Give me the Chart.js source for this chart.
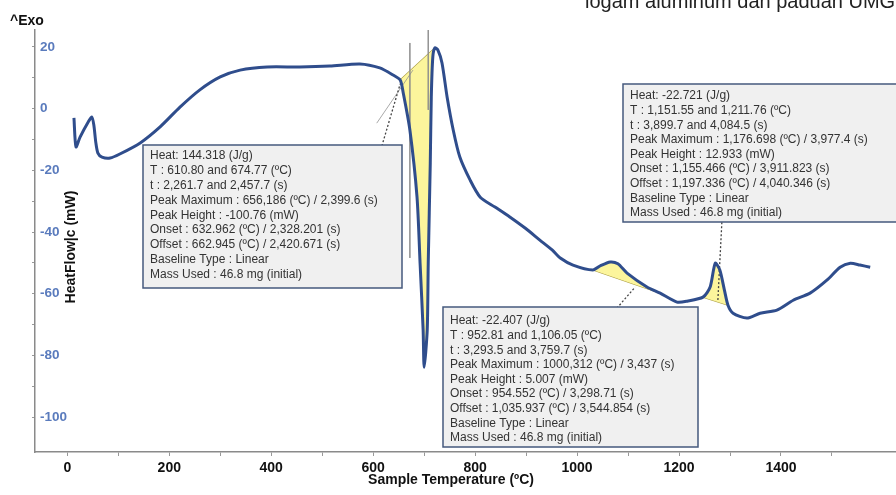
<!DOCTYPE html>
<html>
<head>
<meta charset="utf-8">
<script src="https://cdn.jsdelivr.net/npm/chart.js@4.4.0/dist/chart.umd.min.js"></script>
<style>
  html, body { margin: 0; padding: 0; background: #fff; }
  canvas { display: block; }
</style>
</head>
<body>
<canvas id="dsc" width="896" height="495"></canvas>
<script>
// DSC heating curve (heat flow vs sample temperature)
const tempC = [13, 17, 25, 41, 48, 52, 56, 60, 68, 84,
  103, 143, 182, 221, 260, 300, 339, 392, 456, 515,
  574, 613, 639, 653, 659, 672, 686, 692, 698, 700,
  706, 708, 712, 714, 717, 721, 727, 735, 745, 757,
  770, 790, 810, 839, 868, 898, 927, 951, 967, 992,
  1031, 1045, 1065, 1080, 1098, 1137, 1163, 1196, 1216, 1247,
  1261, 1271, 1280, 1289, 1296, 1306, 1333, 1359, 1392, 1424,
  1457, 1490, 1516, 1536, 1555, 1575];
const heatFlow = [-3.0, -12.4, -9.2, -4.3, -2.7, -5.3, -11.1, -14.4, -15.7, -16.0,
  -14.7, -11.1, -5.9, 0.5, 6.1, 10.3, 12.5, 13.5, 13.5, 13.8,
  14.5, 13.2, 10.9, 9.3, 5.1, -6.9, -28.7, -50.1, -71.8, -83.8,
  -71.8, -50.1, -17.6, 3.8, 16.8, 19.7, 19.0, 14.8, 3.8, -6.9,
  -15.7, -23.1, -28.7, -31.9, -35.1, -38.7, -42.6, -45.8, -48.4, -50.7,
  -52.3, -51.0, -49.7, -50.3, -53.3, -57.8, -59.8, -62.7, -62.4, -61.1,
  -57.8, -50.1, -52.3, -58.8, -63.7, -66.3, -67.9, -66.3, -65.3, -62.1,
  -59.8, -55.6, -51.4, -50.1, -50.7, -51.4];

// integrated peaks: first and last curve index of each one
const peakRanges = [[23, 35], [50, 56], [59, 64]];

// dotted leader lines from the result boxes to the peaks [T, mW]
const leaders = [
  [[617, -12.1], [653, 8.0]],
  [[1078, -64.7], [1114, -57.8]],
  [[1284, -36.8], [1276, -62.7]]
];
// thin grey onset construction lines
const guides = [
  [[607, -4.7], [678, 12.5]],
  [[672, 21.3], [672, -48.4]],
  [[708, 25.5], [708, -0.4]]
];

const xMajor = [0, 200, 400, 600, 800, 1000, 1200, 1400];
const xMinor = [100, 300, 500, 700, 900, 1100, 1300, 1500];
const yMajor = [20, 0, -20, -40, -60, -80, -100];
const yMinor = [10, -10, -30, -50, -70, -90];

const box1Lines = ['Heat: 144.318 (J/g)', 'T : 610.80 and 674.77 (ºC)', 't : 2,261.7 and 2,457.7 (s)',
  'Peak Maximum : 656,186 (ºC) / 2,399.6 (s)', 'Peak Height : -100.76 (mW)',
  'Onset : 632.962 (ºC) / 2,328.201 (s)', 'Offset : 662.945 (ºC) / 2,420.671 (s)',
  'Baseline Type : Linear', 'Mass Used : 46.8 mg (initial)'];
const box2Lines = ['Heat: -22.407 (J/g)', 'T : 952.81 and 1,106.05 (ºC)', 't : 3,293.5 and 3,759.7 (s)',
  'Peak Maximum : 1000,312 (ºC) / 3,437 (s)', 'Peak Height : 5.007 (mW)',
  'Onset : 954.552 (ºC) / 3,298.71 (s)', 'Offset : 1,035.937 (ºC) / 3,544.854 (s)',
  'Baseline Type : Linear', 'Mass Used : 46.8 mg (initial)'];
const box3Lines = ['Heat: -22.721 (J/g)', 'T : 1,151.55 and 1,211.76 (ºC)', 't : 3,899.7 and 4,084.5 (s)',
  'Peak Maximum : 1,176.698 (ºC) / 3,977.4 (s)', 'Peak Height : 12.933 (mW)',
  'Onset : 1,155.466 (ºC) / 3,911.823 (s)', 'Offset : 1,197.336 (ºC) / 4,040.346 (s)',
  'Baseline Type : Linear', 'Mass Used : 46.8 mg (initial)'];

const FONT = '"Liberation Sans", Arial, sans-serif';
const CURVE_TENSION = 0.25;

const pts = tempC.map((t, i) => ({ x: t, y: heatFlow[i] }));
const toXY = seg => seg.map(p => ({ x: p[0], y: p[1] }));

let datasets = [{
  data: pts,
  borderColor: '#2f4d8c',
  borderWidth: 3,
  pointRadius: 0,
  tension: CURVE_TENSION,
  fill: false
}];

leaders.forEach(l => datasets.push({
  data: toXY(l), borderColor: '#444', borderWidth: 1.3, borderDash: [2, 2],
  pointRadius: 0, fill: false
}));
guides.forEach(g => datasets.push({
  data: toXY(g), borderColor: 'rgba(140,140,140,0.75)', borderWidth: 1,
  pointRadius: 0, fill: false
}));

// each peak: the curve slice filled down/up to its straight baseline
peakRanges.forEach(([a, b]) => {
  const baseIdx = datasets.length + 1;
  datasets.push({
    data: pts.slice(a, b + 1),
    borderColor: 'rgba(0,0,0,0)',
    borderWidth: 0,
    pointRadius: 0,
    tension: CURVE_TENSION,
    backgroundColor: '#fcf59c',
    fill: baseIdx
  });
  datasets.push({
    data: [pts[a], pts[b]],
    borderColor: '#a99c42',
    borderWidth: 1.2,
    pointRadius: 0,
    fill: false
  });
});

const boxes = [
  { x: 143, y: 145, w: 259, h: 143, textY: 156, gap: 14.8, lines: box1Lines },
  { x: 443, y: 307, w: 255, h: 140, textY: 321, gap: 14.6, lines: box2Lines },
  { x: 623, y: 84, w: 278, h: 138, textY: 96, gap: 14.6, lines: box3Lines }
];

const overlay = {
  id: 'overlay',
  afterDraw(chart) {
    const c = chart.ctx;
    c.save();
    boxes.forEach(b => {
      c.fillStyle = '#f0f0f0';
      c.fillRect(b.x, b.y, b.w, b.h);
      c.strokeStyle = '#45597d';
      c.lineWidth = 1.5;
      c.strokeRect(b.x, b.y, b.w, b.h);
      c.fillStyle = '#333';
      c.font = '12px ' + FONT;
      c.textAlign = 'left';
      c.textBaseline = 'middle';
      b.lines.forEach((t, i) => c.fillText(t, b.x + 7, b.textY + i * b.gap));
    });

    c.fillStyle = '#111';
    c.font = 'bold 14px ' + FONT;
    c.textBaseline = 'alphabetic';
    c.textAlign = 'left';
    c.fillText('^Exo', 10, 25);

    c.textAlign = 'center';
    c.fillText('Sample Temperature (ºC)', 451, 484);

    c.save();
    c.translate(71, 247);
    c.rotate(-Math.PI / 2);
    c.textBaseline = 'middle';
    c.fillText('HeatFlow|c (mW)', 0, 0);
    c.restore();

    c.textAlign = 'left';
    c.font = '20px ' + FONT;
    c.fillStyle = '#222';
    c.fillText('logam aluminum dan paduan UMG', 585, 8);
    c.restore();
  }
};

new Chart(document.getElementById('dsc').getContext('2d'), {
  type: 'line',
  data: { datasets: datasets },
  plugins: [overlay],
  options: {
    responsive: false,
    animation: false,
    layout: { padding: { top: 30, left: 0, right: 0, bottom: 0 } },
    plugins: {
      legend: { display: false },
      tooltip: { enabled: false }
    },
    scales: {
      x: {
        type: 'linear',
        min: -63.4,
        max: 1625.6,
        afterBuildTicks: s => { s.ticks = xMajor.concat(xMinor).sort((a, b) => a - b).map(v => ({ value: v })); },
        afterFit: s => { s.height = 43; },
        grid: { drawOnChartArea: false, tickLength: 4, color: '#999' },
        border: { color: '#8a8a8a', width: 1.5 },
        ticks: {
          autoSkip: false,
          maxRotation: 0,
          padding: 4,
          color: '#111',
          font: { family: FONT, size: 14, weight: 'bold' },
          callback: v => xMajor.includes(v) ? String(v) : ''
        }
      },
      y: {
        type: 'linear',
        min: -111.3,
        max: 25.5,
        afterBuildTicks: s => { s.ticks = yMajor.concat(yMinor).sort((a, b) => a - b).map(v => ({ value: v })); },
        afterFit: s => { s.width = 35; },
        grid: { drawOnChartArea: false, tickLength: 3, color: '#999' },
        border: { color: '#8a8a8a', width: 1.5 },
        ticks: {
          mirror: true,
          autoSkip: false,
          padding: 5,
          color: '#5a7bbd',
          font: { family: FONT, size: 13.5, weight: 'bold' },
          callback: v => yMajor.includes(v) ? String(v) : ''
        }
      }
    }
  }
});
</script>
</body>
</html>
